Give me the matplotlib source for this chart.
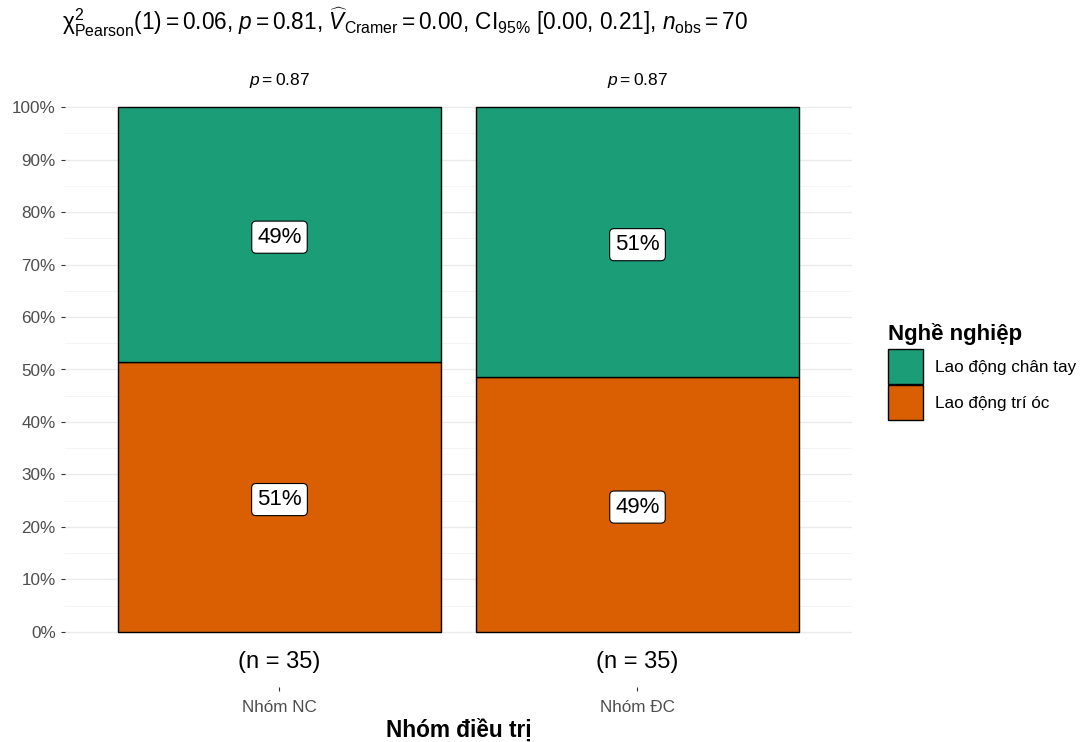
import matplotlib.pyplot as plt
from matplotlib.patches import Patch

plt.rcParams['font.family'] = ['Liberation Sans', 'DejaVu Sans']
plt.rcParams['mathtext.fontset'] = 'custom'
plt.rcParams['mathtext.rm'] = 'Liberation Sans'
plt.rcParams['mathtext.it'] = 'Liberation Sans:italic'
plt.rcParams['mathtext.bf'] = 'Liberation Sans:bold'

# counts per group and occupation
groups = ['Nhóm NC', 'Nhóm ĐC']
occupations = ['Lao động trí óc', 'Lao động chân tay']   # bottom -> top
counts = {
    'Lao động trí óc': [18, 17],
    'Lao động chân tay': [17, 18],
}
colors = {'Lao động trí óc': '#D95F02', 'Lao động chân tay': '#1B9E77'}
group_p = ['0.87', '0.87']
title = (r'$\mathrm{\chi}^2_{\mathrm{Pearson}}(1) = 0.06$, $\mathit{p} = 0.81$, '
         r'$\widehat{V}_{\mathrm{Cramer}} = 0.00$, CI$_{95\%}$ [0.00, 0.21], '
         r'$\mathit{n}_{\mathrm{obs}} = 70$')

totals = [sum(counts[o][i] for o in occupations) for i in range(len(groups))]

fig = plt.figure(figsize=(10.84, 7.42), dpi=100)
W, H = 1084, 742
left, right = 64.7, 852.3
top, bottom = 52, 687
ax = fig.add_axes([left / W, 1 - bottom / H, (right - left) / W, (bottom - top) / H])

x = range(1, len(groups) + 1)
base = [0.0] * len(groups)
for occ in occupations:
    frac = [c / t for c, t in zip(counts[occ], totals)]
    ax.bar(x, frac, bottom=base, width=0.9, color=colors[occ],
           edgecolor='black', linewidth=1.0, zorder=3)
    for xi, b, f in zip(x, base, frac):
        ax.text(xi, b + f / 2 - 0.005, f'{round(f * 100):.0f}%', ha='center',
                va='center', fontsize=16, zorder=4,
                bbox=dict(boxstyle='round,pad=0.25,rounding_size=0.2',
                          fc='white', ec='black', lw=0.8))
    base = [b + f for b, f in zip(base, frac)]

for xi, n, p in zip(x, totals, group_p):
    ax.text(xi, -0.058, f'(n = {n})', ha='center', va='center', fontsize=17)
    ax.text(xi, 1.05, rf'$\mathit{{p}} = {p}$', ha='center', va='center', fontsize=12.5)

ax.set_xlim(0.4, 2.6)
ax.set_ylim(-0.105, 1.105)
ax.set_yticks([i / 10 for i in range(11)])
ax.set_yticklabels([f'{i * 10}%' for i in range(11)])
ax.set_yticks([i / 10 + 0.05 for i in range(10)], minor=True)
ax.set_xticks(list(x))
ax.set_xticklabels(groups)
ax.tick_params(axis='both', which='major', labelsize=12.3, labelcolor='#4D4D4D',
               color='#333333', length=3, width=0.8)
ax.tick_params(axis='y', which='minor', length=0)
ax.tick_params(axis='x', pad=6)
ax.grid(axis='y', which='major', color='#EBEBEB', linewidth=1.0, zorder=0)
ax.grid(axis='y', which='minor', color='#F2F2F2', linewidth=0.6, zorder=0)
for s in ax.spines.values():
    s.set_visible(False)
ax.set_xlabel('Nhóm điều trị', fontsize=16.3, fontweight='bold', labelpad=3)

fig.text(62 / W, 1 - 22 / H, title, ha='left', va='center', fontsize=16.3)

handles = [Patch(facecolor=colors[o], edgecolor='black', linewidth=1.0, label=o)
           for o in ['Lao động chân tay', 'Lao động trí óc']]
leg = fig.legend(handles=handles, title='Nghề nghiệp', loc='upper left',
                 bbox_to_anchor=(881 / W, 1 - 316 / H), frameon=False,
                 fontsize=12.3, title_fontsize=16, handlelength=2.05,
                 handleheight=2.78, labelspacing=0.05, handletextpad=0.7,
                 borderaxespad=0)
leg.get_title().set_fontweight('bold')
leg._legend_box.align = 'left'
leg._legend_box.sep = 3

fig.savefig('out.png', dpi=100)
